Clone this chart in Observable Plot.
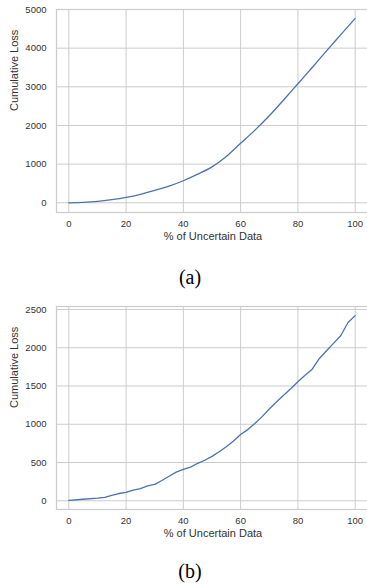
<!DOCTYPE html>
<html>
<head>
<meta charset="utf-8">
<script src="https://cdn.jsdelivr.net/npm/d3@7"></script>
<script src="https://cdn.jsdelivr.net/npm/@observablehq/plot@0.6"></script>
<style>
  html, body { margin: 0; padding: 0; background: #fff; }
  body { width: 367px; height: 584px; overflow: hidden; position: relative; }
  .panel { position: absolute; left: 0; width: 367px; }
  .cap { position: absolute; left: 0; width: 380px; text-align: center;
         font-family: "Liberation Serif", "Times New Roman", serif; font-size: 20px; line-height: 20px; color: #000; }
</style>
</head>
<body>
<div id="pa" class="panel" style="top:0px"></div>
<div class="cap" style="top:267px">(a)</div>
<div id="pb" class="panel" style="top:297px"></div>
<div class="cap" style="top:561px">(b)</div>
<script>
// ---- data ----
const xTicks = [0, 20, 40, 60, 80, 100];
const xLabel = "% of Uncertain Data";
const yLabel = "Cumulative Loss";

const pctA  = [0, 5, 10, 15, 20, 25, 30, 35, 40, 45, 50, 55, 60, 65, 70, 75, 80, 85, 90, 95, 100];
const lossA = [0, 10, 35, 80, 140, 220, 320, 430, 570, 740, 930, 1200, 1540, 1880, 2250, 2660, 3080, 3500, 3930, 4350, 4770];
const yTicksA = [0, 1000, 2000, 3000, 4000, 5000];

const pctB  = [0, 5, 10, 12.5, 15, 17.5, 20, 22.5, 25, 27.5, 30, 32.5, 35, 37.5, 40, 42.5, 45, 47.5, 50, 52.5, 55, 57.5, 60, 62.5, 65, 67.5, 70, 72.5, 75, 77.5, 80, 82.5, 85, 87.5, 90, 92.5, 95, 97.5, 100];
const lossB = [5, 20, 35, 45, 70, 95, 110, 140, 160, 195, 215, 265, 320, 375, 410, 440, 490, 530, 580, 640, 705, 780, 865, 930, 1010, 1100, 1200, 1290, 1380, 1465, 1555, 1640, 1720, 1860, 1960, 2060, 2160, 2330, 2420];
const yTicksB = [0, 500, 1000, 1500, 2000, 2500];

function panel(pct, loss, yDomain, yTicks, curve) {
  const data = pct.map((p, i) => ({p, v: loss[i]}));
  const grid = {stroke: "#cccccc", strokeOpacity: 1, strokeWidth: 1};
  return Plot.plot({
    width: 367, height: 250,
    marginTop: 9, marginBottom: 38, marginLeft: 56, marginRight: -2,
    style: {fontFamily: "'Liberation Sans', Arial, sans-serif", fontSize: "9.5px", color: "#333", background: "#fff", overflow: "visible"},
    x: {domain: [-4.3, 105], label: null},
    y: {domain: yDomain, label: null},
    marks: [
      Plot.gridX(xTicks, grid),
      Plot.gridY(yTicks, grid),
      Plot.frame({stroke: "#cccccc", strokeWidth: 1.25}),
      Plot.axisX(xTicks, {tickSize: 0, tickPadding: 8, label: null, fill: "#333", tickFormat: d => String(d)}),
      Plot.axisY(yTicks, {tickSize: 0, tickPadding: 10, label: null, fill: "#333", tickFormat: d => String(d)}),
      Plot.line(data, {x: "p", y: "v", stroke: "#4c72b0", strokeWidth: 1.3, curve}),
      Plot.text([xLabel], {text: d => d, frameAnchor: "bottom", dy: 27, fontSize: 11, fill: "#333"}),
      Plot.text([yLabel], {text: d => d, frameAnchor: "left", dx: -42, rotate: -90, fontSize: 11, fill: "#333"})
    ]
  });
}

document.getElementById("pa").appendChild(panel(pctA, lossA, [-251, 5000], yTicksA, "monotone-x"));
document.getElementById("pb").appendChild(panel(pctB, lossB, [-114, 2539], yTicksB, "linear"));
</script>
</body>
</html>
